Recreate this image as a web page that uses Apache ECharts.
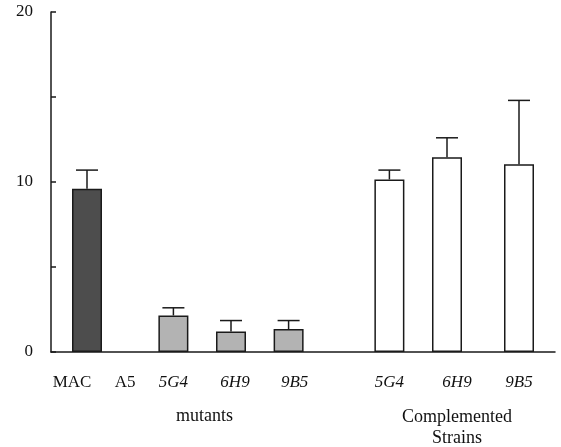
<!DOCTYPE html>
<html>
<head>
<meta charset="utf-8">
<script src="https://cdn.jsdelivr.net/npm/echarts@6/dist/echarts.min.js"></script>
<style>html,body{margin:0;padding:0;background:#fff;}#c{width:561px;height:447px;}</style>
</head>
<body>
<div id="c"></div>
<script>
// ---- data ----
var categories = ['MAC', 'A5', '5G4', '6H9', '9B5', '5G4', '6H9', '9B5'];
var groups = ['wild', 'mutant', 'mutant', 'mutant', 'mutant', 'complemented', 'complemented', 'complemented'];
var values = [9.6, 0, 2.15, 1.2, 1.35, 10.15, 11.45, 11.05];
var errors = [1.1, 0, 0.45, 0.65, 0.5, 0.55, 1.15, 3.75];
var yTicks = [0, 10, 20];
var groupLabels = ['mutants', 'Complemented\nStrains'];

// ---- layout (slot positions on a fine category axis) ----
var nSlots = 35;
var slotOf = [2, 5, 8, 12, 16, 23, 27, 32];
var labelShift = [-15, -5, 0, 4, 6, 0, 10, 0];
var italic = [false, false, true, true, true, true, true, true];
var fills = { wild: '#4d4d4d', mutant: '#b3b3b3', complemented: '#ffffff' };

var axisCats = [];
for (var i = 0; i < nSlots; i++) axisCats.push({ value: '' });
var barData = [];
for (var i = 0; i < nSlots; i++) barData.push(null);
var errData = [];
categories.forEach(function (c, k) {
  var s = slotOf[k];
  var sh = labelShift[k];
  axisCats[s] = {
    value: c,
    textStyle: {
      fontStyle: italic[k] ? 'italic' : 'normal',
      padding: sh < 0 ? [0, -2 * sh, 0, 0] : [0, 0, 0, 2 * sh]
    }
  };
  barData[s] = {
    value: values[k],
    itemStyle: {
      color: fills[groups[k]],
      borderColor: '#1a1a1a',
      borderWidth: values[k] > 0 ? 1.5 : 0
    }
  };
  if (errors[k] > 0) errData.push([s, values[k], errors[k]]);
});

var chart = echarts.init(document.getElementById('c'), null, { renderer: 'canvas' });
var font = 'Liberation Serif, Times New Roman, serif';
chart.setOption({
  animation: false,
  backgroundColor: '#ffffff',
  grid: { left: 51, right: 6, top: 12, bottom: 95, containLabel: false },
  xAxis: {
    type: 'category',
    data: axisCats,
    boundaryGap: true,
    axisLine: { show: true, lineStyle: { color: '#1a1a1a', width: 1.5 } },
    axisTick: { show: false },
    axisLabel: { interval: 0, margin: 22, color: '#111', fontFamily: font, fontSize: 17 },
    splitLine: { show: false }
  },
  yAxis: {
    type: 'value',
    min: 0, max: 20, interval: 5,
    axisLine: { show: true, lineStyle: { color: '#1a1a1a', width: 1.5 } },
    axisTick: { show: true, inside: true, length: 5, lineStyle: { color: '#1a1a1a', width: 1.5 } },
    axisLabel: {
      margin: 18, color: '#111', fontFamily: font, fontSize: 17,
      formatter: function (v) { return yTicks.indexOf(v) >= 0 ? String(v) : ''; }
    },
    splitLine: { show: false }
  },
  series: [
    {
      type: 'bar',
      data: barData,
      barWidth: 30,
      z: 2
    },
    {
      type: 'custom',
      z: 3,
      data: errData,
      renderItem: function (params, api) {
        var x = api.value(0);
        var v = api.value(1);
        var e = api.value(2);
        var p0 = api.coord([x, v]);
        var p1 = api.coord([x, v + e]);
        var hw = 11;
        var st = { stroke: '#1a1a1a', lineWidth: 1.5 };
        return {
          type: 'group',
          children: [
            { type: 'line', shape: { x1: p0[0], y1: p0[1], x2: p1[0], y2: p1[1] }, style: st },
            { type: 'line', shape: { x1: p1[0] - hw, y1: p1[1], x2: p1[0] + hw, y2: p1[1] }, style: st }
          ]
        };
      }
    }
  ],
  graphic: [
    { type: 'text', left: 206 - 30, top: 407, style: { text: groupLabels[0], fontFamily: font, fontSize: 18, fill: '#111', textAlign: 'left' } },
    { type: 'text', left: 402, top: 407, style: { text: groupLabels[1], fontFamily: font, fontSize: 18, fill: '#111', textAlign: 'center', lineHeight: 21 } }
  ]
});
</script>
</body>
</html>
